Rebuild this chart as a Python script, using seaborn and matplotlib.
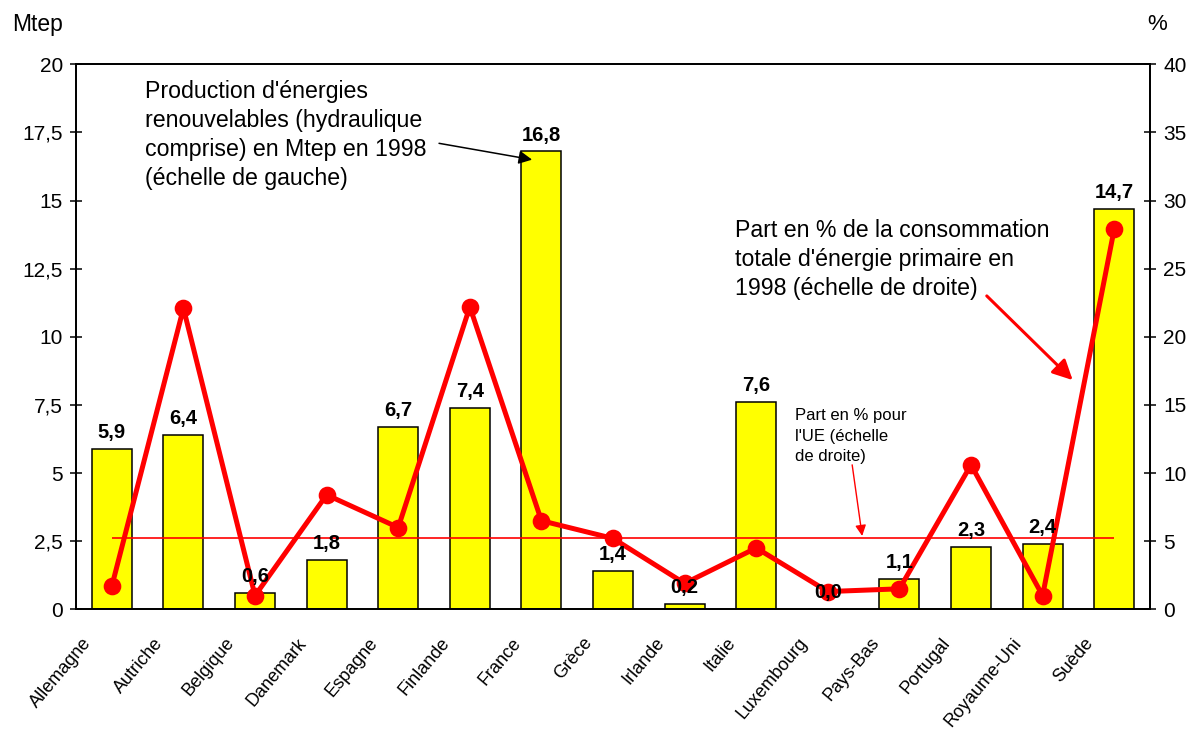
import matplotlib
matplotlib.use("Agg")
import matplotlib.pyplot as plt
import matplotlib.transforms as mtransforms
import pandas as pd
import seaborn as sns

# Renewable energy in the EU, 1998
pays = ["Allemagne", "Autriche", "Belgique", "Danemark", "Espagne", "Finlande",
        "France", "Grèce", "Irlande", "Italie", "Luxembourg", "Pays-Bas",
        "Portugal", "Royaume-Uni", "Suède"]
production_mtep = [5.9, 6.4, 0.6, 1.8, 6.7, 7.4, 16.8, 1.4, 0.2, 7.6, 0.0, 1.1,
                   2.3, 2.4, 14.7]
part_pct = [1.7, 22.1, 1.0, 8.4, 6.0, 22.2, 6.5, 5.2, 1.9, 4.5, 1.3, 1.5,
            10.6, 1.0, 27.9]
part_ue_pct = 5.2

ticks_gauche = [0, 2.5, 5, 7.5, 10, 12.5, 15, 17.5, 20]
ticks_droite = [0, 5, 10, 15, 20, 25, 30, 35, 40]


def fr(v, fmt="{:g}"):
    return fmt.format(v).replace(".", ",")


sns.set_theme(style="white")
plt.rcParams["font.family"] = ["Liberation Sans", "DejaVu Sans"]
plt.rcParams["text.color"] = "black"
plt.rcParams["axes.edgecolor"] = "black"
plt.rcParams["axes.linewidth"] = 1.3

df = pd.DataFrame({"pays": pays, "production": production_mtep, "part": part_pct})

fig = plt.figure(figsize=(11.9, 7.52), dpi=100)
ax = fig.add_axes([0.0639, 0.1898, 0.9025, 0.7247])

# Bars: production in Mtep (left scale)
sns.barplot(data=df, x="pays", y="production", color="#FFFF00", saturation=1,
            edgecolor="black", linewidth=1.1, width=0.56, ax=ax, zorder=2)
ax.set_xlim(-0.5, len(pays) - 0.5)
ax.set_ylim(0, 20)
ax.set_yticks(ticks_gauche)
ax.set_yticklabels([fr(t) for t in ticks_gauche])
ax.set_xlabel("")
ax.set_ylabel("")

# Share of primary energy consumption (right scale)
ax2 = ax.twinx()
ax2.hlines(part_ue_pct, 0, len(pays) - 1, color="red", linewidth=1.2, zorder=1)
sns.pointplot(data=df, x="pays", y="part", color="red", markers="o",
              linestyles="-", errorbar=None, markersize=10, linewidth=3.6,
              ax=ax2, zorder=3)
ax2.set_ylim(0, 40)
ax2.set_xlim(-0.5, len(pays) - 0.5)
ax2.set_yticks(ticks_droite)
ax2.set_yticklabels([fr(t) for t in ticks_droite])
ax2.set_xlabel("")
ax2.set_ylabel("")

# Value labels above bars, drawn on top of the line
for i, v in enumerate(production_mtep):
    ax2.annotate(fr(v, "{:.1f}"), xy=(i, v), xycoords=ax.transData,
                 xytext=(0, 5), textcoords="offset points", ha="center",
                 va="bottom", fontsize=14.5, fontweight="bold", color="black",
                 zorder=5)

# Ticks
ax.tick_params(axis="y", left=True, right=False, direction="inout", length=9,
               width=1.1, labelsize=15, pad=5, colors="black")
ax.tick_params(axis="x", bottom=False, length=0, labelsize=13, pad=6,
               colors="black")
ax2.tick_params(axis="y", right=True, left=False, direction="inout", length=9,
                width=1.1, labelsize=15, pad=5, colors="black")
ax2.tick_params(axis="x", bottom=False, length=0)
for lbl in ax.get_xticklabels():
    lbl.set_rotation(50)
    lbl.set_ha("right")
    lbl.set_va("top")
    lbl.set_rotation_mode("anchor")
    lbl.set_transform(lbl.get_transform() +
                      mtransforms.ScaledTranslation(-0.30, -0.17, fig.dpi_scale_trans))

for a in (ax, ax2):
    for s in a.spines.values():
        s.set_color("black")
        s.set_linewidth(1.3)

# Axis units
fig.text(12 / 1190, 1 - 25 / 752, "Mtep", ha="left", va="center", fontsize=16.5)
fig.text(1157 / 1190, 1 - 25 / 752, "%", ha="center", va="center", fontsize=16)

# Callouts
ax2.text(0.064, 0.972,
         "Production d'énergies\nrenouvelables (hydraulique\ncomprise) en Mtep en 1998\n(échelle de gauche)",
         transform=ax.transAxes, ha="left", va="top", fontsize=16.7,
         linespacing=1.35, zorder=6)
ax2.annotate("", xy=(5.87, 16.5), xycoords=ax.transData,
             xytext=(4.57, 17.1), textcoords=ax.transData,
             arrowprops=dict(arrowstyle="-|>", color="black", lw=1.1,
                             mutation_scale=20, shrinkA=0, shrinkB=0), zorder=6)

ax2.text(0.6136, 0.717,
         "Part en % de la consommation\ntotale d'énergie primaire en\n1998 (échelle de droite)",
         transform=ax.transAxes, ha="left", va="top", fontsize=16.7,
         linespacing=1.35, zorder=6)
ax2.annotate("", xy=(13.42, 8.41), xycoords=ax.transData,
             xytext=(12.22, 11.5), textcoords=ax.transData,
             arrowprops=dict(arrowstyle="-|>", color="red", lw=2.2,
                             mutation_scale=30, shrinkA=0, shrinkB=0), zorder=6)

ax2.text(0.669, 0.369, "Part en % pour\nl'UE (échelle\nde droite)",
         transform=ax.transAxes, ha="left", va="top", fontsize=12,
         linespacing=1.45, zorder=6)
ax2.annotate("", xy=(10.48, 2.69), xycoords=ax.transData,
             xytext=(10.34, 5.3), textcoords=ax.transData,
             arrowprops=dict(arrowstyle="-|>", color="red", lw=1.0,
                             mutation_scale=16, shrinkA=0, shrinkB=0), zorder=6)

fig.savefig("out.png", dpi=100, facecolor="white")
